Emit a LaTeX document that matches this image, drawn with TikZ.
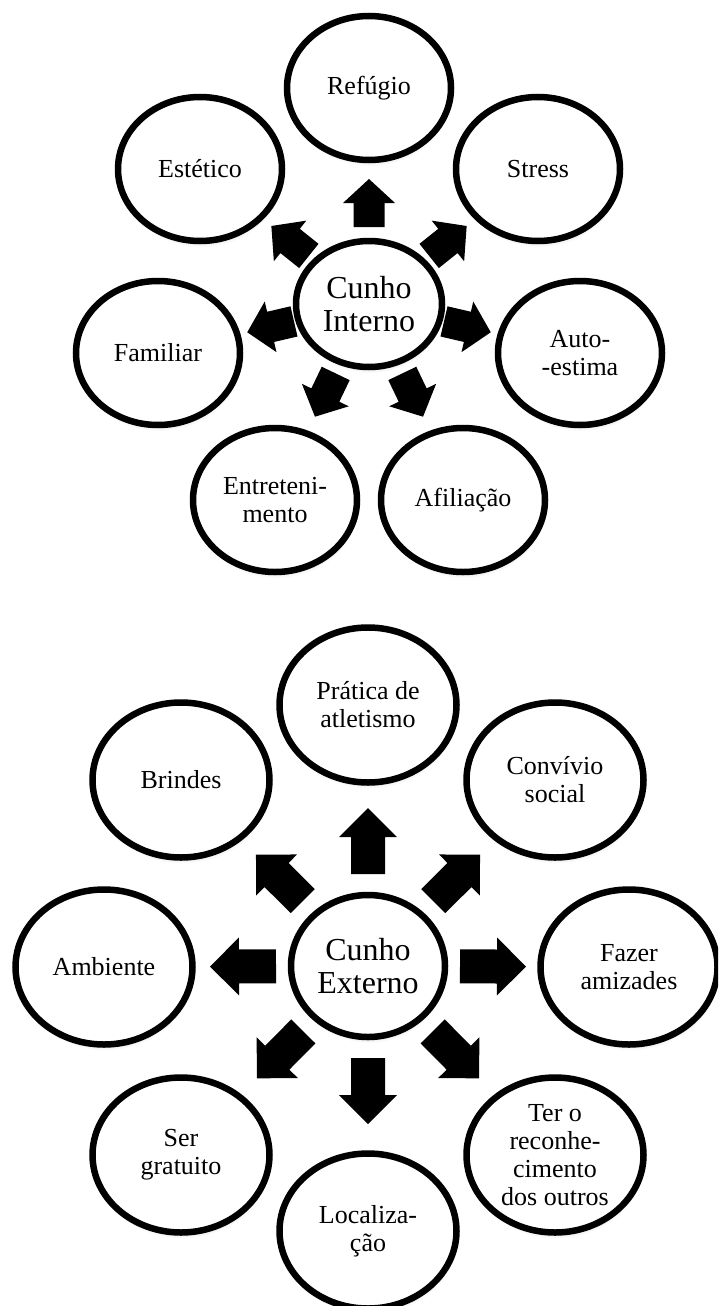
\documentclass[tikz,border=0pt]{standalone}
\usepackage{fontspec}
\setmainfont{Liberation Serif}
\usetikzlibrary{shapes.geometric,shadows,calc}

% #1 centre node, #2 target node, #3 tail radius, #4 tip radius,
% #5 half shaft width, #6 half head width, #7 head length
\newcommand\blockarrow[7]{%
  \coordinate (baT) at ($(#1.center)!#3!(#2.center)$);
  \coordinate (baH) at ($(#1.center)!#4-#7!(#2.center)$);
  \coordinate (baP) at ($(#1.center)!#4!(#2.center)$);
  \fill[arrowfill]
    ($(baT)!#5!90:(baP)$) -- ($(baH)!#5!90:(baP)$) -- ($(baH)!#6!90:(baP)$) --
    (baP) --
    ($(baH)!#6!-90:(baP)$) -- ($(baH)!#5!-90:(baP)$) -- ($(baT)!#5!-90:(baP)$) -- cycle;
}

\tikzset{
  bub/.style={ellipse, draw=black, line width=6.5pt, fill=white, inner sep=0pt,
    align=center, text=black,
    circular drop shadow={shadow scale=1.0, shadow xshift=1pt,
      shadow yshift=-6pt, opacity=0.3}},
  topsat/.style={bub, minimum width=164pt, minimum height=144pt,
    font=\fontsize{26}{28}\selectfont},
  topctr/.style={bub, minimum width=146pt, minimum height=126pt,
    font=\fontsize{32}{33}\selectfont},
  botsat/.style={bub, minimum width=177pt, minimum height=155pt,
    font=\fontsize{26}{28}\selectfont},
  botctr/.style={bub, minimum width=154pt, minimum height=142pt,
    font=\fontsize{32}{33}\selectfont},
  arrowfill/.style={fill=black}
}

\begin{document}
\begin{tikzpicture}[x=1pt, y=-1pt]
\useasboundingbox (0,0) rectangle (718,1306);
\fill[white] (0,0) rectangle (718,1306);
\clip (0,0) rectangle (718,1306);

% ---------- Cunho Interno ----------
\node[topctr] (ci) at (369,304) {Cunho\\Interno};
\node[topsat] (ref) at (369,88)  {Refúgio};
\node[topsat] (str) at (538,169) {Stress};
\node[topsat] (aut) at (580,353) {Auto-\\-estima};
\node[topsat] (afi) at (463,500) {Afiliação};
\node[topsat] (ent) at (275,500) {Entreteni-\\mento};
\node[topsat] (fam) at (158,353) {Familiar};
\node[topsat] (est) at (200,169) {Estético};

\foreach \t in {ref,str,aut,afi,ent,fam,est}{
  \blockarrow{ci}{\t}{77pt}{125pt}{15.5pt}{26pt}{24pt}
}

% ---------- Cunho Externo ----------
\node[botctr] (ce) at (368,966) {Cunho\\Externo};
\node[botsat] (pra) at (368,705)  {Prática de\\atletismo};
\node[botsat] (con) at (555,780)  {Convívio\\social};
\node[botsat] (faz) at (629,967)  {Fazer\\amizades};
\node[botsat] (ter) at (555,1155) {Ter o\\reconhe-\\cimento\\dos outros};
\node[botsat] (loc) at (368,1231) {Localiza-\\ção};
\node[botsat] (ser) at (181,1155) {Ser\\gratuito};
\node[botsat] (amb) at (104,967)  {Ambiente};
\node[botsat] (bri) at (181,780)  {Brindes};

\foreach \t in {pra,con,faz,ter,loc,ser,amb,bri}{
  \blockarrow{ce}{\t}{92pt}{158pt}{17pt}{29pt}{29pt}
}
\end{tikzpicture}
\end{document}
